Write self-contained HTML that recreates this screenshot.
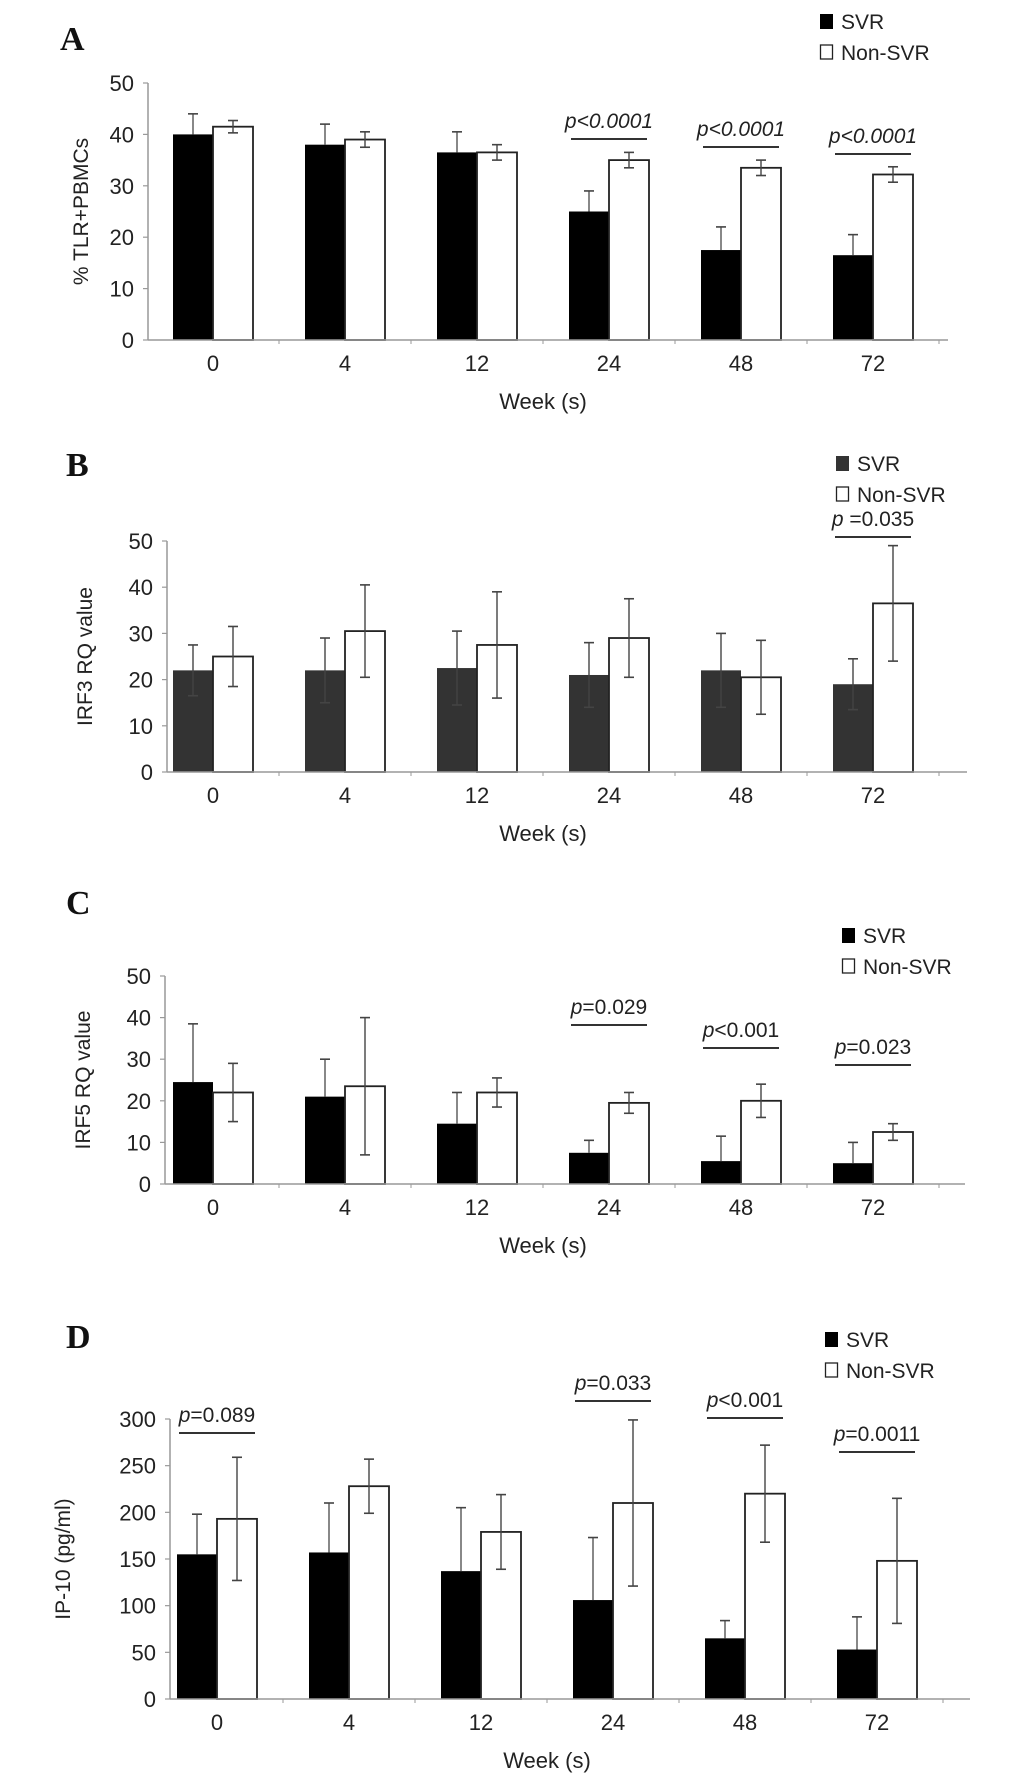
<!DOCTYPE html>
<html><head><meta charset="utf-8"><style>
html,body{margin:0;padding:0;background:#fff;}
svg{display:block;font-family:"Liberation Sans",sans-serif;}
</style></head><body>
<svg id="fig" width="1033" height="1787" viewBox="0 0 1033 1787" xmlns="http://www.w3.org/2000/svg"></svg>
<script>
const categories = ["0","4","12","24","48","72"];
// Panel A
const aSvr = [40,38,36.5,25,17.5,16.5];
const aSvrErr = [4,4,4,4,4.5,4];
const aNon = [41.5,39,36.5,35,33.5,32.2];
const aNonErr = [1.2,1.5,1.5,1.5,1.5,1.5];
const aTicks = [0,10,20,30,40,50];
const aP = ["","","","p<0.0001","p<0.0001","p<0.0001"];
// Panel B
const bSvr = [22,22,22.5,21,22,19];
const bSvrErr = [5.5,7,8,7,8,5.5];
const bNon = [25,30.5,27.5,29,20.5,36.5];
const bNonErr = [6.5,10,11.5,8.5,8,12.5];
const bTicks = [0,10,20,30,40,50];
const bP = ["","","","","","p =0.035"];
// Panel C
const cSvr = [24.5,21,14.5,7.5,5.5,5];
const cSvrErr = [14,9,7.5,3,6,5];
const cNon = [22,23.5,22,19.5,20,12.5];
const cNonErr = [7,16.5,3.5,2.5,4,2];
const cTicks = [0,10,20,30,40,50];
const cP = ["","","","p=0.029","p<0.001","p=0.023"];
// Panel D
const dSvr = [155,157,137,106,65,53];
const dSvrErr = [43,53,68,67,19,35];
const dNon = [193,228,179,210,220,148];
const dNonErr = [66,29,40,89,52,67];
const dTicks = [0,50,100,150,200,250,300];
const dP = ["p=0.089","","","p=0.033","p<0.001","p=0.0011"];

const NS="http://www.w3.org/2000/svg";
const svg=document.getElementById('fig');
function mk(tag,attrs,parent,text){const e=document.createElementNS(NS,tag);for(const k in attrs)e.setAttribute(k,attrs[k]);if(text!==undefined)e.textContent=text;(parent||svg).appendChild(e);return e;}

function panel(cfg){
  const g=mk('g',{});
  
  
  const y=v=>cfg.y0-(v/cfg.max)*(cfg.y0-cfg.yTop);
  const x=i=>cfg.c0+i*cfg.step;
  const L=mk('text',{x:cfg.lx,y:cfg.ly,'font-family':'Liberation Serif, serif','font-weight':'bold','font-size':34,fill:'#111'},g,cfg.letter);
  
  
  const ya=mk('line',{x1:cfg.ax,y1:cfg.yTop,x2:cfg.ax,y2:cfg.y0,stroke:'#999','stroke-width':1.5},g);
  
  
  cfg.ticks.forEach(t=>{
    mk('line',{x1:cfg.ax-5,y1:y(t),x2:cfg.ax,y2:y(t),stroke:'#999','stroke-width':1.2},g);
    const tl=mk('text',{x:cfg.ax-14,y:y(t)+8,'text-anchor':'end','font-size':22,fill:'#222'},g,t);
    
    
  });
  const yt=mk('text',{transform:`translate(${cfg.ytx},${(cfg.y0+cfg.yTop)/2}) rotate(-90)`,'text-anchor':'middle','font-size':21,fill:'#222'},g,cfg.ytitle);
  
  
  categories.forEach((c,i)=>{
    const cx=x(i), w=40;
    const sTop=y(cfg.svr[i]);
    const b1=mk('rect',{x:cx-w,y:sTop,width:w,height:cfg.y0-sTop,fill:cfg.svrColor},g);
    
    
    const nTop=y(cfg.non[i]);
    const b2=mk('rect',{x:cx,y:nTop,width:w,height:cfg.y0-nTop,fill:'#fff',stroke:'#222','stroke-width':1.8},g);
    
    
    const sx=cx-w/2, nx=cx+w/2;
    const eTop=y(cfg.svr[i]+cfg.svrErr[i]);
    const eBot=cfg.svrBoth?y(cfg.svr[i]-cfg.svrErr[i]):sTop;
    mk('line',{x1:sx,y1:eTop,x2:sx,y2:eBot,stroke:cfg.svrBoth?'#444':'#555','stroke-width':1.4},g);
    mk('line',{x1:sx-5,y1:eTop,x2:sx+5,y2:eTop,stroke:'#444','stroke-width':1.6},g);
    if(cfg.svrBoth) mk('line',{x1:sx-5,y1:eBot,x2:sx+5,y2:eBot,stroke:'#444','stroke-width':1.6},g);
    const nt=y(cfg.non[i]+cfg.nonErr[i]), nb=y(cfg.non[i]-cfg.nonErr[i]);
    mk('line',{x1:nx,y1:nt,x2:nx,y2:nb,stroke:'#444','stroke-width':1.4},g);
    mk('line',{x1:nx-5,y1:nt,x2:nx+5,y2:nt,stroke:'#444','stroke-width':1.6},g);
    mk('line',{x1:nx-5,y1:nb,x2:nx+5,y2:nb,stroke:'#444','stroke-width':1.6},g);
    const xl=mk('text',{x:cx,y:cfg.y0+31,'text-anchor':'middle','font-size':22,fill:'#222'},g,c);
    
    
    mk('line',{x1:cx+cfg.step/2,y1:cfg.y0,x2:cx+cfg.step/2,y2:cfg.y0+4,stroke:'#999','stroke-width':1},g);
    const p=cfg.p[i];
    if(p){
      const py=cfg.pY[i];
      const pt=mk('text',{x:cx,y:py,'text-anchor':'middle','font-size':21,fill:'#222','font-style':cfg.pItalic?'italic':'normal'},g);
      
      
      if(cfg.pItalic){pt.textContent=p;}
      else{mk('tspan',{'font-style':'italic'},pt,p[0]);mk('tspan',{},pt,p.slice(1));}
      mk('line',{x1:cx-38,y1:py+11,x2:cx+38,y2:py+11,stroke:'#333','stroke-width':2},g);
    }
  });
  const xa=mk('line',{x1:cfg.ax,y1:cfg.y0,x2:cfg.ax+800,y2:cfg.y0,stroke:'#999','stroke-width':1.5},g);
  
  
  const xt=mk('text',{x:(cfg.c0+x(5))/2,y:cfg.y0+69,'text-anchor':'middle','font-size':22,fill:'#222'},g,'Week (s)');
  
  
  const lg=mk('g',{},g);
  
  
  mk('rect',{x:cfg.legX,y:cfg.legY-13,width:13,height:15,fill:cfg.svrColor},lg);
  mk('text',{x:cfg.legX+21,y:cfg.legY+2,'font-size':21,fill:'#222'},lg,'SVR');
  mk('rect',{x:cfg.legX+0.5,y:cfg.legY+18,width:12,height:14,fill:'#fff',stroke:'#222','stroke-width':1.3},lg);
  mk('text',{x:cfg.legX+21,y:cfg.legY+33,'font-size':21,fill:'#222'},lg,'Non-SVR');
}

panel({letter:'A',lx:60,ly:50,ax:148,y0:340,yTop:83,max:50,c0:213,step:132,ticks:aTicks,ytx:88,ytitle:'% TLR+PBMCs',
  svr:aSvr,svrErr:aSvrErr,non:aNon,nonErr:aNonErr,svrColor:'#000',svrBoth:false,p:aP,pY:[0,0,0,128,136,143],pItalic:true,legX:820,legY:27});
panel({letter:'B',lx:66,ly:476,ax:167,y0:772,yTop:541,max:50,c0:213,step:132,ticks:bTicks,ytx:92,ytitle:'IRF3 RQ value',
  svr:bSvr,svrErr:bSvrErr,non:bNon,nonErr:bNonErr,svrColor:'#333',svrBoth:true,p:bP,pY:[0,0,0,0,0,526],pItalic:false,legX:836,legY:469});
panel({letter:'C',lx:66,ly:914,ax:165,y0:1184,yTop:976,max:50,c0:213,step:132,ticks:cTicks,ytx:90,ytitle:'IRF5 RQ value',
  svr:cSvr,svrErr:cSvrErr,non:cNon,nonErr:cNonErr,svrColor:'#000',svrBoth:false,p:cP,pY:[0,0,0,1014,1037,1054],pItalic:false,legX:842,legY:941});
panel({letter:'D',lx:66,ly:1348,ax:170,y0:1699,yTop:1419,max:300,c0:217,step:132,ticks:dTicks,ytx:70,ytitle:'IP-10 (pg/ml)',
  svr:dSvr,svrErr:dSvrErr,non:dNon,nonErr:dNonErr,svrColor:'#000',svrBoth:false,p:dP,pY:[1422,0,0,1390,1407,1441],pItalic:false,legX:825,legY:1345});
</script>
</body></html>
